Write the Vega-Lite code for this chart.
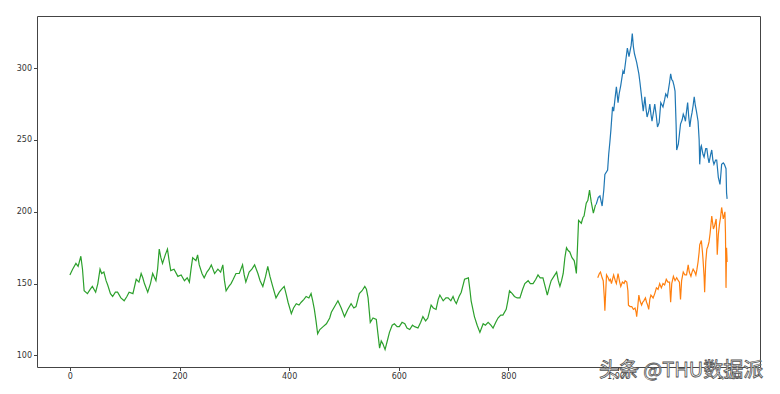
{
  "$schema": "https://vega.github.io/schema/vega-lite/v6.json",
  "width": 723,
  "height": 351,
  "autosize": "none",
  "padding": {"left": 37, "top": 16, "right": 20, "bottom": 27},
  "background": "white",
  "config": {
    "view": {"stroke": "#444", "strokeWidth": 1},
    "axis": {
      "grid": false,
      "domain": false,
      "labelFont": "DejaVu Sans",
      "labelFontSize": 8,
      "labelColor": "#333",
      "tickColor": "#444",
      "tickSize": 3.5,
      "labelPadding": 2,
      "title": null,
      "zindex": 0
    }
  },
  "datasets": {
    "series": [
      {"s":"train","i":0,"v":156},{"s":"train","i":5,"v":160},{"s":"train","i":11,"v":164},{"s":"train","i":15,"v":162},{"s":"train","i":20,"v":169},{"s":"train","i":23,"v":160},{"s":"train","i":26,"v":145},{"s":"train","i":32,"v":143},{"s":"train","i":37,"v":146},{"s":"train","i":41,"v":148},{"s":"train","i":47,"v":144},{"s":"train","i":51,"v":150},{"s":"train","i":55,"v":160},{"s":"train","i":58,"v":157},{"s":"train","i":62,"v":158},{"s":"train","i":66,"v":152},{"s":"train","i":69,"v":149},{"s":"train","i":74,"v":143},{"s":"train","i":78,"v":141},{"s":"train","i":83,"v":144},{"s":"train","i":87,"v":144},{"s":"train","i":93,"v":140},{"s":"train","i":99,"v":138},{"s":"train","i":104,"v":141},{"s":"train","i":108,"v":144},{"s":"train","i":115,"v":143},{"s":"train","i":121,"v":153},{"s":"train","i":126,"v":151},{"s":"train","i":130,"v":157},{"s":"train","i":133,"v":154},{"s":"train","i":136,"v":150},{"s":"train","i":142,"v":144},{"s":"train","i":147,"v":150},{"s":"train","i":151,"v":157},{"s":"train","i":157,"v":152},{"s":"train","i":160,"v":160},{"s":"train","i":163,"v":174},{"s":"train","i":166,"v":168},{"s":"train","i":169,"v":164},{"s":"train","i":174,"v":170},{"s":"train","i":178,"v":174},{"s":"train","i":181,"v":166},{"s":"train","i":184,"v":159},{"s":"train","i":190,"v":160},{"s":"train","i":197,"v":155},{"s":"train","i":203,"v":156},{"s":"train","i":209,"v":152},{"s":"train","i":214,"v":154},{"s":"train","i":218,"v":151},{"s":"train","i":221,"v":160},{"s":"train","i":224,"v":168},{"s":"train","i":230,"v":166},{"s":"train","i":233,"v":170},{"s":"train","i":236,"v":163},{"s":"train","i":241,"v":157},{"s":"train","i":245,"v":154},{"s":"train","i":250,"v":158},{"s":"train","i":254,"v":160},{"s":"train","i":258,"v":163},{"s":"train","i":264,"v":157},{"s":"train","i":270,"v":160},{"s":"train","i":275,"v":158},{"s":"train","i":279,"v":163},{"s":"train","i":282,"v":152},{"s":"train","i":285,"v":145},{"s":"train","i":290,"v":148},{"s":"train","i":294,"v":150},{"s":"train","i":298,"v":153},{"s":"train","i":303,"v":157},{"s":"train","i":309,"v":157},{"s":"train","i":315,"v":163},{"s":"train","i":318,"v":156},{"s":"train","i":321,"v":151},{"s":"train","i":327,"v":158},{"s":"train","i":332,"v":160},{"s":"train","i":337,"v":163},{"s":"train","i":343,"v":157},{"s":"train","i":347,"v":152},{"s":"train","i":352,"v":148},{"s":"train","i":357,"v":155},{"s":"train","i":361,"v":162},{"s":"train","i":365,"v":155},{"s":"train","i":370,"v":148},{"s":"train","i":376,"v":140},{"s":"train","i":382,"v":144},{"s":"train","i":386,"v":146},{"s":"train","i":391,"v":148},{"s":"train","i":395,"v":142},{"s":"train","i":398,"v":137},{"s":"train","i":404,"v":129},{"s":"train","i":408,"v":133},{"s":"train","i":413,"v":136},{"s":"train","i":418,"v":135},{"s":"train","i":422,"v":137},{"s":"train","i":427,"v":139},{"s":"train","i":431,"v":141},{"s":"train","i":436,"v":140},{"s":"train","i":440,"v":143},{"s":"train","i":443,"v":138},{"s":"train","i":446,"v":132},{"s":"train","i":449,"v":124},{"s":"train","i":452,"v":115},{"s":"train","i":456,"v":118},{"s":"train","i":462,"v":120},{"s":"train","i":468,"v":122},{"s":"train","i":474,"v":126},{"s":"train","i":477,"v":130},{"s":"train","i":483,"v":134},{"s":"train","i":489,"v":138},{"s":"train","i":495,"v":133},{"s":"train","i":501,"v":127},{"s":"train","i":507,"v":132},{"s":"train","i":513,"v":136},{"s":"train","i":518,"v":133},{"s":"train","i":522,"v":134},{"s":"train","i":528,"v":143},{"s":"train","i":533,"v":145},{"s":"train","i":538,"v":148},{"s":"train","i":541,"v":146},{"s":"train","i":544,"v":140},{"s":"train","i":548,"v":123},{"s":"train","i":553,"v":126},{"s":"train","i":559,"v":125},{"s":"train","i":562,"v":115},{"s":"train","i":565,"v":105},{"s":"train","i":568,"v":110},{"s":"train","i":571,"v":108},{"s":"train","i":575,"v":104},{"s":"train","i":579,"v":110},{"s":"train","i":583,"v":116},{"s":"train","i":588,"v":121},{"s":"train","i":592,"v":122},{"s":"train","i":597,"v":120},{"s":"train","i":601,"v":120},{"s":"train","i":606,"v":123},{"s":"train","i":611,"v":122},{"s":"train","i":615,"v":119},{"s":"train","i":620,"v":118},{"s":"train","i":625,"v":121},{"s":"train","i":629,"v":120},{"s":"train","i":635,"v":119},{"s":"train","i":640,"v":123},{"s":"train","i":644,"v":127},{"s":"train","i":649,"v":124},{"s":"train","i":653,"v":126},{"s":"train","i":659,"v":135},{"s":"train","i":663,"v":133},{"s":"train","i":668,"v":132},{"s":"train","i":672,"v":139},{"s":"train","i":675,"v":142},{"s":"train","i":681,"v":138},{"s":"train","i":686,"v":140},{"s":"train","i":690,"v":140},{"s":"train","i":695,"v":138},{"s":"train","i":699,"v":141},{"s":"train","i":702,"v":138},{"s":"train","i":705,"v":136},{"s":"train","i":710,"v":141},{"s":"train","i":714,"v":144},{"s":"train","i":718,"v":150},{"s":"train","i":720,"v":153},{"s":"train","i":727,"v":154},{"s":"train","i":730,"v":145},{"s":"train","i":732,"v":138},{"s":"train","i":738,"v":127},{"s":"train","i":743,"v":121},{"s":"train","i":748,"v":116},{"s":"train","i":751,"v":119},{"s":"train","i":754,"v":122},{"s":"train","i":758,"v":121},{"s":"train","i":763,"v":123},{"s":"train","i":768,"v":121},{"s":"train","i":772,"v":119},{"s":"train","i":777,"v":123},{"s":"train","i":781,"v":126},{"s":"train","i":786,"v":128},{"s":"train","i":790,"v":128},{"s":"train","i":796,"v":132},{"s":"train","i":799,"v":138},{"s":"train","i":802,"v":145},{"s":"train","i":807,"v":143},{"s":"train","i":811,"v":141},{"s":"train","i":816,"v":140},{"s":"train","i":821,"v":140},{"s":"train","i":826,"v":146},{"s":"train","i":830,"v":150},{"s":"train","i":836,"v":152},{"s":"train","i":840,"v":150},{"s":"train","i":845,"v":150},{"s":"train","i":850,"v":153},{"s":"train","i":854,"v":156},{"s":"train","i":858,"v":154},{"s":"train","i":863,"v":154},{"s":"train","i":867,"v":148},{"s":"train","i":871,"v":142},{"s":"train","i":875,"v":148},{"s":"train","i":878,"v":152},{"s":"train","i":883,"v":155},{"s":"train","i":888,"v":158},{"s":"train","i":891,"v":152},{"s":"train","i":894,"v":148},{"s":"train","i":897,"v":152},{"s":"train","i":900,"v":157},{"s":"train","i":903,"v":168},{"s":"train","i":906,"v":175},{"s":"train","i":909,"v":173},{"s":"train","i":912,"v":172},{"s":"train","i":916,"v":168},{"s":"train","i":920,"v":166},{"s":"train","i":922,"v":162},{"s":"train","i":924,"v":157},{"s":"train","i":926,"v":175},{"s":"train","i":928,"v":194},{"s":"train","i":933,"v":192},{"s":"train","i":936,"v":196},{"s":"train","i":938,"v":197},{"s":"train","i":942,"v":206},{"s":"train","i":945,"v":208},{"s":"train","i":948,"v":215},{"s":"train","i":951,"v":207},{"s":"train","i":955,"v":199},{"s":"train","i":959,"v":205},
      {"s":"valid","i":960,"v":205},{"s":"valid","i":964,"v":210},{"s":"valid","i":967,"v":211},{"s":"valid","i":971,"v":204},{"s":"valid","i":974,"v":215},{"s":"valid","i":976,"v":226},{"s":"valid","i":981,"v":229},{"s":"valid","i":983,"v":240},{"s":"valid","i":985,"v":248},{"s":"valid","i":987,"v":257},{"s":"valid","i":990,"v":273},{"s":"valid","i":992,"v":270},{"s":"valid","i":994,"v":277},{"s":"valid","i":997,"v":287},{"s":"valid","i":1000,"v":276},{"s":"valid","i":1002,"v":282},{"s":"valid","i":1005,"v":288},{"s":"valid","i":1009,"v":298},{"s":"valid","i":1011,"v":296},{"s":"valid","i":1014,"v":305},{"s":"valid","i":1017,"v":314},{"s":"valid","i":1020,"v":308},{"s":"valid","i":1022,"v":312},{"s":"valid","i":1024,"v":316},{"s":"valid","i":1026,"v":324},{"s":"valid","i":1028,"v":315},{"s":"valid","i":1030,"v":310},{"s":"valid","i":1034,"v":304},{"s":"valid","i":1038,"v":296},{"s":"valid","i":1040,"v":290},{"s":"valid","i":1043,"v":280},{"s":"valid","i":1046,"v":270},{"s":"valid","i":1049,"v":280},{"s":"valid","i":1051,"v":272},{"s":"valid","i":1053,"v":266},{"s":"valid","i":1056,"v":270},{"s":"valid","i":1058,"v":275},{"s":"valid","i":1060,"v":268},{"s":"valid","i":1062,"v":263},{"s":"valid","i":1065,"v":270},{"s":"valid","i":1067,"v":275},{"s":"valid","i":1070,"v":266},{"s":"valid","i":1072,"v":259},{"s":"valid","i":1075,"v":262},{"s":"valid","i":1078,"v":276},{"s":"valid","i":1082,"v":273},{"s":"valid","i":1085,"v":278},{"s":"valid","i":1087,"v":282},{"s":"valid","i":1090,"v":280},{"s":"valid","i":1092,"v":285},{"s":"valid","i":1094,"v":290},{"s":"valid","i":1096,"v":296},{"s":"valid","i":1098,"v":292},{"s":"valid","i":1100,"v":291},{"s":"valid","i":1102,"v":288},{"s":"valid","i":1104,"v":284},{"s":"valid","i":1106,"v":260},{"s":"valid","i":1107,"v":243},{"s":"valid","i":1110,"v":247},{"s":"valid","i":1112,"v":254},{"s":"valid","i":1114,"v":261},{"s":"valid","i":1117,"v":264},{"s":"valid","i":1119,"v":268},{"s":"valid","i":1121,"v":266},{"s":"valid","i":1123,"v":263},{"s":"valid","i":1125,"v":270},{"s":"valid","i":1127,"v":276},{"s":"valid","i":1129,"v":266},{"s":"valid","i":1131,"v":259},{"s":"valid","i":1133,"v":265},{"s":"valid","i":1135,"v":269},{"s":"valid","i":1137,"v":274},{"s":"valid","i":1139,"v":280},{"s":"valid","i":1141,"v":274},{"s":"valid","i":1143,"v":270},{"s":"valid","i":1146,"v":263},{"s":"valid","i":1148,"v":250},{"s":"valid","i":1149,"v":233},{"s":"valid","i":1151,"v":245},{"s":"valid","i":1152,"v":246},{"s":"valid","i":1155,"v":240},{"s":"valid","i":1157,"v":238},{"s":"valid","i":1160,"v":244},{"s":"valid","i":1162,"v":244},{"s":"valid","i":1164,"v":238},{"s":"valid","i":1166,"v":234},{"s":"valid","i":1169,"v":240},{"s":"valid","i":1171,"v":243},{"s":"valid","i":1173,"v":236},{"s":"valid","i":1175,"v":233},{"s":"valid","i":1178,"v":236},{"s":"valid","i":1180,"v":236},{"s":"valid","i":1183,"v":224},{"s":"valid","i":1186,"v":219},{"s":"valid","i":1188,"v":228},{"s":"valid","i":1189,"v":233},{"s":"valid","i":1192,"v":234},{"s":"valid","i":1194,"v":233},{"s":"valid","i":1196,"v":231},{"s":"valid","i":1197,"v":230},{"s":"valid","i":1198,"v":213},{"s":"valid","i":1199,"v":209},
      {"s":"pred","i":963,"v":154},{"s":"pred","i":966,"v":157},{"s":"pred","i":968,"v":158},{"s":"pred","i":971,"v":154},{"s":"pred","i":973,"v":152},{"s":"pred","i":975,"v":140},{"s":"pred","i":976,"v":131},{"s":"pred","i":978,"v":148},{"s":"pred","i":979,"v":156},{"s":"pred","i":982,"v":154},{"s":"pred","i":984,"v":152},{"s":"pred","i":986,"v":153},{"s":"pred","i":988,"v":150},{"s":"pred","i":990,"v":153},{"s":"pred","i":992,"v":156},{"s":"pred","i":995,"v":152},{"s":"pred","i":997,"v":150},{"s":"pred","i":1000,"v":157},{"s":"pred","i":1003,"v":151},{"s":"pred","i":1005,"v":148},{"s":"pred","i":1008,"v":151},{"s":"pred","i":1011,"v":150},{"s":"pred","i":1013,"v":152},{"s":"pred","i":1016,"v":151},{"s":"pred","i":1018,"v":145},{"s":"pred","i":1019,"v":135},{"s":"pred","i":1022,"v":134},{"s":"pred","i":1025,"v":134},{"s":"pred","i":1028,"v":132},{"s":"pred","i":1031,"v":133},{"s":"pred","i":1033,"v":130},{"s":"pred","i":1034,"v":127},{"s":"pred","i":1036,"v":134},{"s":"pred","i":1038,"v":142},{"s":"pred","i":1040,"v":138},{"s":"pred","i":1043,"v":135},{"s":"pred","i":1045,"v":137},{"s":"pred","i":1047,"v":138},{"s":"pred","i":1050,"v":140},{"s":"pred","i":1052,"v":137},{"s":"pred","i":1054,"v":135},{"s":"pred","i":1056,"v":132},{"s":"pred","i":1058,"v":139},{"s":"pred","i":1060,"v":142},{"s":"pred","i":1064,"v":140},{"s":"pred","i":1067,"v":143},{"s":"pred","i":1070,"v":147},{"s":"pred","i":1073,"v":146},{"s":"pred","i":1076,"v":150},{"s":"pred","i":1079,"v":147},{"s":"pred","i":1082,"v":150},{"s":"pred","i":1085,"v":149},{"s":"pred","i":1088,"v":153},{"s":"pred","i":1091,"v":151},{"s":"pred","i":1094,"v":151},{"s":"pred","i":1096,"v":137},{"s":"pred","i":1098,"v":150},{"s":"pred","i":1101,"v":155},{"s":"pred","i":1104,"v":152},{"s":"pred","i":1107,"v":154},{"s":"pred","i":1110,"v":152},{"s":"pred","i":1112,"v":151},{"s":"pred","i":1114,"v":139},{"s":"pred","i":1116,"v":152},{"s":"pred","i":1119,"v":158},{"s":"pred","i":1122,"v":156},{"s":"pred","i":1125,"v":156},{"s":"pred","i":1128,"v":163},{"s":"pred","i":1130,"v":158},{"s":"pred","i":1133,"v":155},{"s":"pred","i":1135,"v":158},{"s":"pred","i":1137,"v":160},{"s":"pred","i":1140,"v":158},{"s":"pred","i":1142,"v":156},{"s":"pred","i":1144,"v":160},{"s":"pred","i":1146,"v":165},{"s":"pred","i":1148,"v":172},{"s":"pred","i":1149,"v":177},{"s":"pred","i":1152,"v":180},{"s":"pred","i":1154,"v":172},{"s":"pred","i":1155,"v":167},{"s":"pred","i":1157,"v":155},{"s":"pred","i":1158,"v":144},{"s":"pred","i":1160,"v":165},{"s":"pred","i":1162,"v":174},{"s":"pred","i":1164,"v":176},{"s":"pred","i":1166,"v":179},{"s":"pred","i":1168,"v":185},{"s":"pred","i":1171,"v":197},{"s":"pred","i":1174,"v":188},{"s":"pred","i":1176,"v":190},{"s":"pred","i":1179,"v":195},{"s":"pred","i":1180,"v":185},{"s":"pred","i":1181,"v":170},{"s":"pred","i":1183,"v":184},{"s":"pred","i":1185,"v":191},{"s":"pred","i":1187,"v":196},{"s":"pred","i":1189,"v":203},{"s":"pred","i":1191,"v":198},{"s":"pred","i":1192,"v":195},{"s":"pred","i":1194,"v":198},{"s":"pred","i":1195,"v":200},{"s":"pred","i":1196,"v":185},{"s":"pred","i":1197,"v":147},{"s":"pred","i":1198,"v":175},{"s":"pred","i":1199,"v":165}
    ],
    "watermark": [{"label": "头条 @THU数据派"}]
  },
  "layer": [
    {
      "data": {"name": "series"},
      "mark": {"type": "line", "strokeWidth": 1.2},
      "encoding": {
        "x": {
          "field": "i",
          "type": "quantitative",
          "scale": {"domain": [-60, 1259], "nice": false, "zero": false},
          "axis": {"values": [0, 200, 400, 600, 800, 1000, 1200]}
        },
        "y": {
          "field": "v",
          "type": "quantitative",
          "scale": {"domain": [91.9, 336.3], "nice": false, "zero": false},
          "axis": {"values": [100, 150, 200, 250, 300]}
        },
        "color": {
          "field": "s",
          "type": "nominal",
          "scale": {"domain": ["train", "valid", "pred"], "range": ["#2ca02c", "#1f77b4", "#ff7f0e"]},
          "legend": null
        }
      }
    },
    {
      "data": {"name": "watermark"},
      "mark": {
        "type": "text",
        "font": "Noto Sans CJK SC",
        "fontSize": 20,
        "align": "center",
        "baseline": "middle",
        "fill": "white",
        "stroke": "#555",
        "strokeWidth": 0.8
      },
      "encoding": {
        "x": {"datum": 1115, "type": "quantitative"},
        "y": {"datum": 89, "type": "quantitative"},
        "text": {"field": "label"}
      }
    }
  ]
}
